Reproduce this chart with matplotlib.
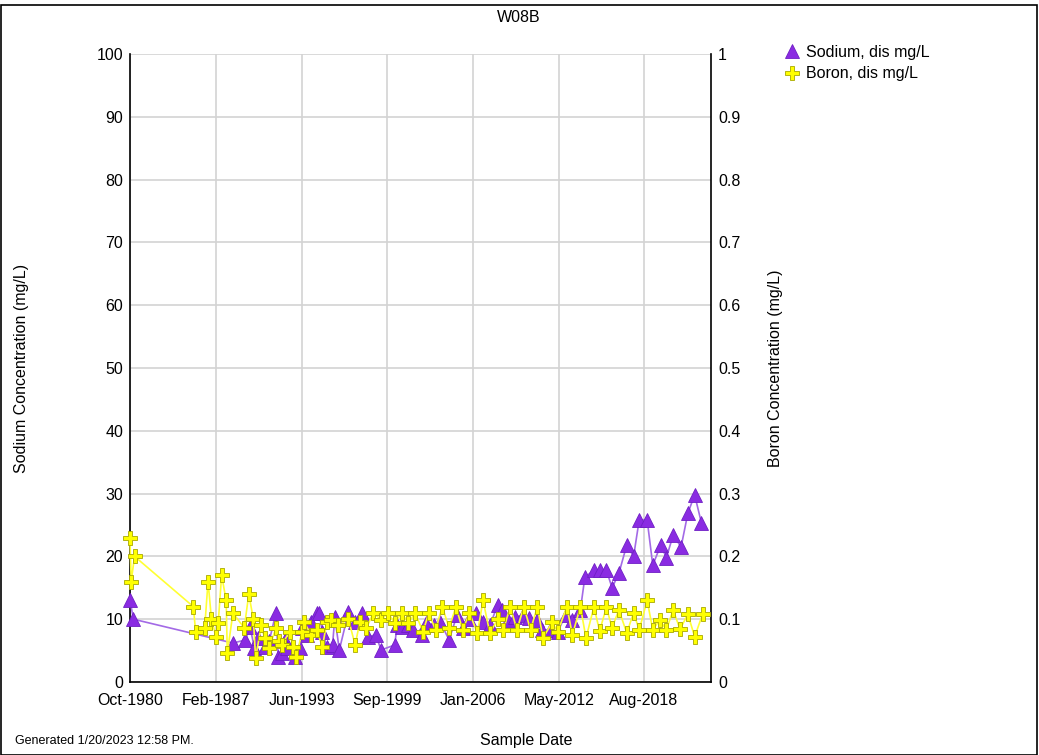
import matplotlib
matplotlib.use("Agg")
import matplotlib.pyplot as plt
import matplotlib.dates as mdates
import pandas as pd
from matplotlib.lines import Line2D
from matplotlib.patches import Rectangle

plt.rcParams["font.family"] = ["Liberation Sans", "DejaVu Sans"]

# Sodium, dissolved (mg/L)
sodium_dates = [
    "1980-10", "1981-01", "1988-05", "1989-04", "1989-08", "1989-12", "1990-03",
    "1990-09", "1991-01", "1991-07", "1991-09", "1991-12", "1992-03", "1992-05",
    "1992-12", "1993-04", "1993-06", "1993-10", "1994-02", "1994-07", "1994-09",
    "1994-12", "1995-04", "1995-09", "1995-11", "1996-03", "1996-11", "1997-05",
    "1997-11", "1998-04", "1998-11", "1999-04", "2000-04", "2000-06", "2000-10",
    "2001-04", "2001-08", "2002-04", "2002-08", "2003-03", "2003-08", "2004-04",
    "2004-11", "2005-04", "2005-10", "2006-04", "2006-10", "2007-04", "2007-11",
    "2008-03", "2008-08", "2009-02", "2009-09", "2010-03", "2010-10", "2011-02",
    "2011-09", "2012-04", "2012-11", "2013-05", "2013-12", "2014-04", "2014-12",
    "2015-05", "2015-11", "2016-04", "2016-10", "2017-05", "2017-11", "2018-04",
    "2018-11", "2019-04", "2019-11", "2020-04", "2020-10", "2021-05", "2021-11",
    "2022-05", "2022-11",
]
sodium_values = [
    13.0, 10.0, 6.2, 6.7, 8.8, 5.4, 7.0,
    5.6, 6.5, 11.0, 4.0, 4.6, 6.7, 5.4,
    4.0, 5.4, 8.6, 7.5, 9.6, 11.0, 11.0,
    8.0, 5.6, 5.9, 10.3, 5.1, 11.1, 9.5,
    11.0, 7.2, 7.5, 5.1, 5.9, 9.1, 8.8,
    9.1, 8.3, 7.5, 9.4, 9.1, 9.6, 6.7,
    10.7, 8.6, 10.0, 11.0, 9.6, 9.0, 12.3,
    11.5, 9.9, 10.3, 10.7, 10.2, 9.9, 8.3,
    8.3, 8.0, 10.7, 9.9, 11.5, 16.7, 17.8,
    17.8, 17.8, 15.0, 17.3, 21.8, 20.0, 25.8,
    25.8, 18.6, 21.8, 19.8, 23.4, 21.5, 26.9,
    29.8, 25.3,
]

# Boron, dissolved (mg/L)
boron_dates = [
    "1980-10", "1980-11", "1981-02", "1985-06", "1985-08", "1986-04", "1986-07",
    "1986-10", "1987-02", "1987-04", "1987-07", "1987-11", "1987-12", "1988-05",
    "1989-03", "1989-07", "1989-11", "1990-01", "1990-06", "1990-09", "1991-01",
    "1991-07", "1991-10", "1991-12", "1992-07", "1992-10", "1993-01", "1993-06",
    "1993-08", "1994-02", "1994-07", "1994-12", "1995-04", "1995-08", "1996-02",
    "1996-11", "1997-05", "1997-09", "1998-03", "1998-09", "1999-04", "1999-10",
    "2000-04", "2000-10", "2001-04", "2001-10", "2002-05", "2002-10", "2003-04",
    "2003-10", "2004-04", "2004-10", "2005-04", "2005-10", "2006-05", "2006-10",
    "2007-04", "2007-11", "2008-04", "2008-10", "2009-04", "2009-10", "2010-04",
    "2010-10", "2011-03", "2011-11", "2012-04", "2012-12", "2013-05", "2013-12",
    "2014-05", "2014-12", "2015-05", "2015-11", "2016-04", "2016-10", "2017-05",
    "2017-11", "2018-04", "2018-11", "2019-04", "2019-10", "2020-04", "2020-10",
    "2021-04", "2021-11", "2022-05", "2022-12",
]
boron_values = [
    0.23, 0.16, 0.20, 0.12, 0.08, 0.086, 0.16,
    0.10, 0.072, 0.094, 0.17, 0.13, 0.046, 0.11,
    0.086, 0.14, 0.10, 0.038, 0.09, 0.07, 0.054,
    0.086, 0.065, 0.059, 0.08, 0.056, 0.04, 0.08,
    0.095, 0.075, 0.083, 0.056, 0.095, 0.099, 0.09,
    0.10, 0.059, 0.095, 0.086, 0.11, 0.099, 0.11,
    0.094, 0.11, 0.094, 0.11, 0.08, 0.11, 0.083,
    0.12, 0.086, 0.12, 0.083, 0.11, 0.078, 0.13,
    0.078, 0.10, 0.083, 0.12, 0.083, 0.12, 0.083,
    0.12, 0.07, 0.095, 0.08, 0.12, 0.075, 0.12,
    0.07, 0.12, 0.081, 0.119, 0.086, 0.115, 0.078,
    0.11, 0.083, 0.13, 0.083, 0.099, 0.083, 0.115,
    0.084, 0.108, 0.072, 0.108,
]

date_ticks = ["1980-10-01", "1987-02-01", "1993-06-01", "1999-09-01",
              "2006-01-01", "2012-05-01", "2018-08-01"]
sodium_ticks = list(range(0, 101, 10))
boron_ticks = [i / 10 for i in range(11)]

sd = pd.to_datetime(sodium_dates)
bd = pd.to_datetime(boron_dates)

W, H = 1039, 755
fig = plt.figure(figsize=(W / 100, H / 100), dpi=100)
fig.patch.set_facecolor("white")

ax = fig.add_axes([130 / W, 1 - 682 / H, (711 - 130) / W, (682 - 54) / H])
ax2 = ax.twinx()

purple = "#8a2be2"
purple_line = "#a36ae6"
yellow = "#ffff00"
FS = 11.5

ax.plot(sd, sodium_values, color=purple_line, lw=1.2, marker="^", ms=9.5,
        mfc=purple, mec="#6f1fc4", mew=0.6, zorder=3, clip_on=False)
ax2.plot(bd, boron_values, color="#ffff33", lw=1.2, marker="P", ms=9.5,
         mfc=yellow, mec="#a8a800", mew=0.6, zorder=3, clip_on=False)

ax.set_xlim(pd.Timestamp("1980-10-01"), pd.Timestamp("2023-07-15"))
ax.set_ylim(0, 100)
ax2.set_ylim(0, 1)

ax.set_xticks(pd.to_datetime(date_ticks))
ax.xaxis.set_major_formatter(mdates.DateFormatter("%b-%Y"))
ax.set_yticks(sodium_ticks)
ax2.set_yticks(boron_ticks)
ax2.set_yticklabels([f"{v:g}" for v in boron_ticks])

ax.grid(True, color="#d3d3d3", lw=1.2)
ax.set_axisbelow(True)

for a in (ax, ax2):
    a.spines["top"].set_visible(False)
    a.tick_params(labelsize=FS, length=0, pad=5)
ax.tick_params(axis="x", pad=8)
ax.spines["right"].set_visible(False)
ax2.spines["left"].set_visible(False)
ax2.spines["bottom"].set_visible(False)
ax2.spines["right"].set_linewidth(1.2)
ax.spines["left"].set_linewidth(1.2)
ax.spines["bottom"].set_linewidth(1.2)

ax.set_ylabel("Sodium Concentration (mg/L)", fontsize=FS)
ax2.set_ylabel("Boron Concentration (mg/L)", fontsize=FS)
ax.yaxis.set_label_coords(-0.174, 0.5)
ax2.yaxis.set_label_coords(1.098, 0.5)

fig.text(519 / W, 1 - 17 / H, "W08B", ha="center", va="center", fontsize=FS)
fig.text(526 / W, 1 - 740 / H, "Sample Date", ha="center", va="center", fontsize=FS)
fig.text(15 / W, 1 - 741 / H, "Generated 1/20/2023 12:58 PM.", ha="left",
         va="center", fontsize=9)

handles = [
    Line2D([], [], ls="none", marker="^", ms=9.5, mfc=purple, mec="#6f1fc4", mew=0.6),
    Line2D([], [], ls="none", marker="P", ms=9.5, mfc=yellow, mec="#a8a800", mew=0.6),
]
fig.legend(handles, ["Sodium, dis mg/L", "Boron, dis mg/L"],
           loc="upper left", bbox_to_anchor=(786 / W, 1 - 45 / H),
           frameon=False, fontsize=FS, handlelength=0.8, handletextpad=0.45,
           labelspacing=0.4, borderaxespad=0, borderpad=0)

fig.patches.append(Rectangle((1 / W, 0), 1 - 3 / W, 1 - 5 / H, transform=fig.transFigure,
                             fill=False, edgecolor="black", lw=1.2))

fig.savefig("out.png", dpi=100)
